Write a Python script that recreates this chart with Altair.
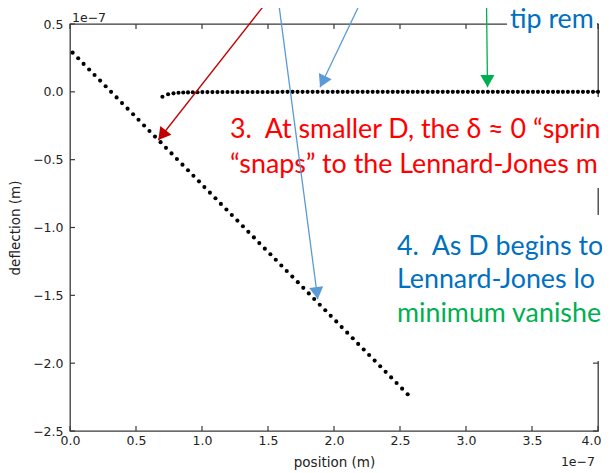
import math
import altair as alt
import pandas as pd

# ---------------- data (units of 1e-7 m) ----------------
snap_pos = [0.020, 0.062, 0.103, 0.145, 0.186, 0.228, 0.270, 0.311, 0.353, 0.394,
            0.436, 0.478, 0.519, 0.561, 0.602, 0.644, 0.686, 0.727, 0.769, 0.810,
            0.852, 0.894, 0.935, 0.977, 1.018, 1.060, 1.102, 1.143, 1.185, 1.226,
            1.268, 1.310, 1.351, 1.393, 1.434, 1.476, 1.518, 1.559, 1.601, 1.642,
            1.684, 1.726, 1.767, 1.809, 1.850, 1.892, 1.934, 1.975, 2.017, 2.058,
            2.100, 2.142, 2.183, 2.225, 2.266, 2.308, 2.350, 2.391, 2.433, 2.474,
            2.516, 2.558]
snap_defl = [0.289, 0.248, 0.206, 0.165, 0.124, 0.083, 0.041, 0.000, -0.041, -0.083,
             -0.124, -0.165, -0.206, -0.248, -0.289, -0.330, -0.371, -0.413, -0.454, -0.495,
             -0.537, -0.578, -0.619, -0.660, -0.702, -0.743, -0.784, -0.826, -0.867, -0.908,
             -0.949, -0.991, -1.032, -1.073, -1.115, -1.156, -1.197, -1.238, -1.280, -1.321,
             -1.362, -1.403, -1.445, -1.486, -1.527, -1.569, -1.610, -1.651, -1.692, -1.734,
             -1.775, -1.816, -1.858, -1.899, -1.940, -1.981, -2.023, -2.064, -2.105, -2.146,
             -2.188, -2.229]

free_pos = [0.700, 0.743, 0.784, 0.822, 0.858, 0.894, 0.930, 0.966, 1.003, 1.041,
            1.079, 1.117, 1.155, 1.193, 1.231, 1.269, 1.307, 1.345, 1.383, 1.421,
            1.459, 1.497, 1.534, 1.572, 1.610, 1.648, 1.686, 1.724, 1.762, 1.800,
            1.838, 1.876, 1.914, 1.952, 1.990, 2.028, 2.066, 2.103, 2.141, 2.179,
            2.217, 2.255, 2.293, 2.331, 2.369, 2.407, 2.445, 2.483, 2.521, 2.559,
            2.597, 2.634, 2.672, 2.710, 2.748, 2.786, 2.824, 2.862, 2.900, 2.938,
            2.976, 3.014, 3.052, 3.090, 3.128, 3.166, 3.203, 3.241, 3.279, 3.317,
            3.355, 3.393, 3.431, 3.469, 3.507, 3.545, 3.583, 3.621, 3.659, 3.697,
            3.734, 3.772, 3.810, 3.848, 3.886, 3.924, 3.962, 4.000]
free_defl = [-0.036, -0.018, -0.011, -0.007, -0.005, -0.004, -0.003, -0.003, -0.002, -0.002,
             -0.002, -0.002, -0.001, -0.001, -0.001, -0.001, -0.001, -0.001, -0.001, -0.001,
             -0.001, -0.001, -0.001, -0.001, 0.000, 0.000, 0.000, 0.000, 0.000, 0.000,
             0.000, 0.000, 0.000, 0.000, 0.000, 0.000, 0.000, 0.000, 0.000, 0.000,
             0.000, 0.000, 0.000, 0.000, 0.000, 0.000, 0.000, 0.000, 0.000, 0.000,
             0.000, 0.000, 0.000, 0.000, 0.000, 0.000, 0.000, 0.000, 0.000, 0.000,
             0.000, 0.000, 0.000, 0.000, 0.000, 0.000, 0.000, 0.000, 0.000, 0.000,
             0.000, 0.000, 0.000, 0.000, 0.000, 0.000, 0.000, 0.000, 0.000, 0.000,
             0.000, 0.000, 0.000, 0.000, 0.000, 0.000, 0.000, 0.000]

x_ticks = [0.0, 0.5, 1.0, 1.5, 2.0, 2.5, 3.0, 3.5, 4.0]
y_ticks = [-2.5, -2.0, -1.5, -1.0, -0.5, 0.0, 0.5]

# annotation arrows: start (x0, y0) -> tip (x1, y1), in data units
arrow_x0 = [1.502, 1.578, 2.210, 3.155]
arrow_y0 = [0.677, 0.677, 0.677, 0.677]
arrow_x1 = [0.669, 1.877, 1.894, 3.163]
arrow_y1 = [-0.355, -1.529, 0.034, 0.034]
arrow_col = ["#C00000", "#5B9BD5", "#5B9BD5", "#00B050"]

# annotation texts (the part of the slide text visible in the picture)
note_text = ["3.\u00a0 At smaller D, the \u03b4 \u2248 0 \u201csprin",
             "\u201csnaps\u201d to the Lennard-Jones m",
             "4.\u00a0 As D begins to",
             "Lennard-Jones lo",
             "minimum vanishe",
             "tip rem"]
note_col = ["#FF0000", "#FF0000", "#0070C0", "#0070C0", "#00B050", "#0070C0"]

# ---------------- layout ----------------
W, H = 528, 407
PX_X = W / 4.0
PX_Y = H / 3.0
note_px = [(160, 114), (160, 149), (327, 231), (327, 264), (327, 298), (440, 4)]
boxes_px = [(145, 73, 545, 164), (320, 191, 545, 337), (437, -20, 527, 6)]

xs = alt.Scale(domain=[0, 4], nice=False, zero=False)
ys = alt.Scale(domain=[-2.5, 0.5], nice=False, zero=False)

AX_FONT = "DejaVu Sans"
TXT_FONT = "Lato"
TXT_SIZE = 26.8

pts = pd.concat([
    pd.DataFrame({"pos": snap_pos, "defl": snap_defl}),
    pd.DataFrame({"pos": free_pos, "defl": free_defl}),
])

points = alt.Chart(pts).mark_circle(size=17, color="black", opacity=1).encode(
    x=alt.X("pos:Q", scale=xs,
            axis=alt.Axis(values=x_ticks, format=".1f", tickSize=0, domain=False, grid=False,
                          labelFlush=False, labelOverlap=False, labelPadding=3,
                          labelOffset={"condition": {"test": "datum.value >= 4", "value": -7}, "value": 0},
                          labelFont=AX_FONT, labelFontSize=12.5, labelColor="#222",
                          title="position (m)", titleFont=AX_FONT, titleFontSize=13.5,
                          titleFontWeight="normal", titleColor="#222", titlePadding=9)),
    y=alt.Y("defl:Q", scale=ys,
            axis=alt.Axis(values=y_ticks, format=".1f", tickSize=0, domain=False, grid=False,
                          labelFlush=False, labelOverlap=False, labelPadding=7,
                          labelFont=AX_FONT, labelFontSize=12.5, labelColor="#222",
                          title="deflection (m)", titleFont=AX_FONT, titleFontSize=13.5,
                          titleFontWeight="normal", titleColor="#222", titlePadding=10)),
)

# inward ticks on all four sides
TL = 5
xt = pd.DataFrame({"t": x_ticks})
yt = pd.DataFrame({"t": y_ticks})
tick_style = dict(color="#3a3a3a", strokeWidth=1.2)
ticks_b = alt.Chart(xt).mark_rule(**tick_style).encode(x=alt.X("t:Q", scale=xs), y=alt.value(H), y2=alt.value(H - TL))
ticks_t = alt.Chart(xt).mark_rule(**tick_style).encode(x=alt.X("t:Q", scale=xs), y=alt.value(0), y2=alt.value(TL))
ticks_l = alt.Chart(yt).mark_rule(**tick_style).encode(y=alt.Y("t:Q", scale=ys), x=alt.value(0), x2=alt.value(TL))
ticks_r = alt.Chart(yt).mark_rule(**tick_style).encode(y=alt.Y("t:Q", scale=ys), x=alt.value(W), x2=alt.value(W - TL))

# white boxes behind the slide text (they hide parts of the frame)
box_layers = []
for (bx0, by0, bx1, by1) in boxes_px:
    box_layers.append(
        alt.Chart(pd.DataFrame({"k": [0]})).mark_rect(color="white").encode(
            x=alt.value(bx0), x2=alt.value(bx1), y=alt.value(by0), y2=alt.value(by1))
    )

text_layers = []
for t, c, (tx, ty) in zip(note_text, note_col, note_px):
    text_layers.append(
        alt.Chart(pd.DataFrame({"txt": [t]})).mark_text(
            font=TXT_FONT, fontSize=TXT_SIZE, color=c, align="left", baseline="alphabetic"
        ).encode(text="txt:N", x=alt.value(tx), y=alt.value(ty))
    )

# offset labels "1e-7"
off_top = alt.Chart(pd.DataFrame({"txt": ["1e\u22127"]})).mark_text(
    font=AX_FONT, fontSize=12.5, color="#222", align="left", baseline="alphabetic"
).encode(text="txt:N", x=alt.value(2), y=alt.value(-2.5))
off_bot = alt.Chart(pd.DataFrame({"txt": ["1e\u22127"]})).mark_text(
    font=AX_FONT, fontSize=12.5, color="#222", align="right", baseline="alphabetic"
).encode(text="txt:N", x=alt.value(525), y=alt.value(442))

# arrows
HEAD = 200
h = 0.433 * math.sqrt(HEAD)
rows = []
for x0, y0, x1, y1, c in zip(arrow_x0, arrow_y0, arrow_x1, arrow_y1, arrow_col):
    dxp = (x1 - x0) * PX_X
    dyp = -(y1 - y0) * PX_Y
    L = math.hypot(dxp, dyp)
    ux, uy = dxp / L, dyp / L
    ang = math.degrees(math.atan2(ux, -uy)) % 360
    rows.append({"x0": x0, "y0": y0, "x1": x1, "y1": y1, "col": c,
                 "hx": x1 - ux * h / PX_X, "hy": y1 + uy * h / PX_Y, "ang": ang})
arr = pd.DataFrame(rows)
shafts = alt.Chart(arr).mark_rule(strokeWidth=1.3).encode(
    x=alt.X("x0:Q", scale=xs), y=alt.Y("y0:Q", scale=ys),
    x2="x1:Q", y2="y1:Q", color=alt.Color("col:N", scale=None))
heads = alt.Chart(arr).mark_point(shape="triangle-up", filled=True, opacity=1, size=HEAD).encode(
    x=alt.X("hx:Q", scale=xs), y=alt.Y("hy:Q", scale=ys),
    angle=alt.Angle("ang:Q", scale=None), color=alt.Color("col:N", scale=None))

chart = alt.layer(
    ticks_b, ticks_t, ticks_l, ticks_r, points, *box_layers, *text_layers,
    off_top, off_bot, shafts, heads
).properties(
    width=W, height=H,
    padding={"left": 62, "top": 16, "right": 4, "bottom": 42},
    autosize=alt.AutoSizeParams(type="none"),
    background="white",
).configure_view(stroke="#3a3a3a", strokeWidth=1.3)

chart.save("out.html", embed_options={"renderer": "svg", "actions": False})
